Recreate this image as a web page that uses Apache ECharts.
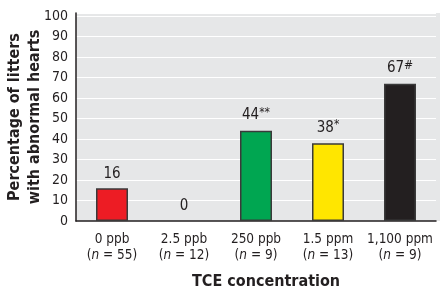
<!DOCTYPE html>
<html><head><meta charset="utf-8">
<script src="https://cdn.jsdelivr.net/npm/echarts@6/dist/echarts.min.js"></script>
<style>html,body{margin:0;padding:0;background:#fff}#c{width:440px;height:295px}</style>
</head><body><div id="c"></div>
<script>
const categories = ['0 ppb', '2.5 ppb', '250 ppb', '1.5 ppm', '1,100 ppm'];
const sampleSizes = ['55', '12', '9', '13', '9'];
const values = [16, 0, 44, 38, 67];
const marks = ['', '', '**', '*', '#'];
const barColors = ['#ED1C24', '#E6E7E8', '#00A651', '#FFE600', '#231F20'];
const yTicks = [0, 10, 20, 30, 40, 50, 60, 70, 80, 90, 100];
const yTitle = 'Percentage of litters\nwith abnormal hearts';
const xTitle = 'TCE concentration';

const FONT = '"DejaVu Sans Condensed", "Liberation Sans Narrow", sans-serif';
const chart = echarts.init(document.getElementById('c'), null, {renderer: 'canvas'});
const labelMap = {};
categories.forEach((c, i) => labelMap[c] = i);

chart.setOption({
  animation: false,
  textStyle: {fontFamily: FONT},
  graphic: [
    {type: 'rect', z: -10, silent: true, shape: {x: 76, y: 13, width: 364, height: 208}, style: {fill: '#E6E7E8'}},
    {type: 'text', left: 262 - 70, top: 274, style: {text: xTitle, font: 'bold 16px ' + FONT, fill: '#231F20', width: 140, align: 'center'}}
  ],
  grid: {left: 76, right: 4, top: 13, bottom: 74, containLabel: false, outerBoundsMode: 'none'},
  xAxis: {
    type: 'category',
    data: categories,
    axisLine: {lineStyle: {color: '#231F20', width: 1.5}},
    axisTick: {show: false},
    axisLabel: {
      margin: 10,
      interval: 0,
      lineHeight: 16,
      formatter: (v) => {
        const i = labelMap[v];
        return '{t|' + v + '}\n{p|(}{n|n}{p| = ' + sampleSizes[i] + ')}';
      },
      rich: {
        t: {fontSize: 13.5, color: '#231F20', fontFamily: FONT, lineHeight: 16},
        p: {fontSize: 13.5, color: '#231F20', fontFamily: FONT, lineHeight: 16},
        n: {fontSize: 13.5, color: '#231F20', fontFamily: FONT, fontStyle: 'italic', lineHeight: 16}
      }
    }
  },
  yAxis: {
    type: 'value',
    min: 0, max: 101.5, interval: 10,
    name: yTitle,
    nameLocation: 'middle',
    nameRotate: 90,
    nameGap: 31,
    nameMoveOverlap: false,
    nameTextStyle: {fontSize: 16, fontWeight: 'bold', color: '#231F20', lineHeight: 20, fontFamily: FONT},
    axisLine: {show: true, lineStyle: {color: '#231F20', width: 1.5}},
    axisTick: {show: false},
    axisLabel: {
      margin: 8, fontSize: 14, color: '#231F20', fontFamily: FONT,
      showMaxLabel: false,
      formatter: (v) => yTicks.includes(v) ? String(v) : ''
    },
    splitLine: {lineStyle: {color: '#FFFFFF', width: 1.2}}
  },
  series: [{
    type: 'bar',
    barWidth: 32,
    data: values.map((v, i) => ({
      value: v,
      itemStyle: {color: barColors[i], borderColor: v > 0 ? '#3A3A3A' : 'transparent', borderWidth: v > 0 ? 1.5 : 0}
    })),
    label: {
      show: true,
      position: 'top',
      distance: 7,
      formatter: (p) => marks[p.dataIndex] ? '{v|' + p.value + '}{s|' + marks[p.dataIndex] + '}' : '{v|' + p.value + '}',
      rich: {
        v: {fontSize: 15, color: '#231F20', fontFamily: FONT},
        s: {fontSize: 12, color: '#231F20', fontFamily: FONT, verticalAlign: 'top', padding: [0, 0, 5, 0]}
      }
    }
  }]
});
</script></body></html>
